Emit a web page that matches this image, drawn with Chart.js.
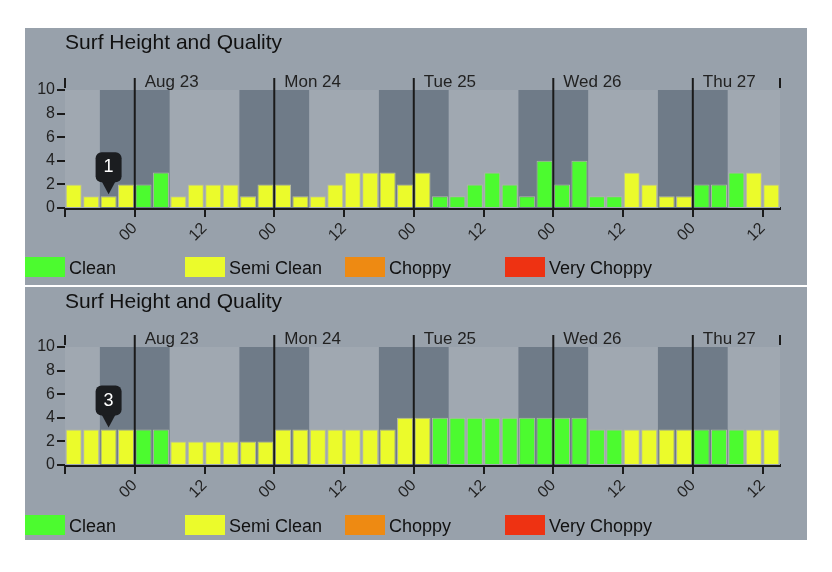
<!DOCTYPE html>
<html>
<head>
<meta charset="utf-8">
<script src="https://cdn.jsdelivr.net/npm/chart.js@4"></script>
<style>
  body { margin: 0; background: #fff; font-family: "Liberation Sans", Arial, sans-serif; }
  .panel { position: absolute; left: 25px; width: 782px; background: #98a1ab; }
  .panel canvas { position: absolute; left: 0; top: 0; }
  .title { position: absolute; left: 40px; top: 2px; font-size: 21px; color: #111; }
  .legend { position: absolute; left: 0; font-size: 18px; color: #111; }
  .legend span { position: absolute; white-space: nowrap; }
  .legend i { display: inline-block; width: 40px; height: 20px; vertical-align: -3px; margin-right: 4px; }
</style>
</head>
<body>
<div class="panel" id="p1" style="top:28px;height:257px">
  <canvas id="c1" width="782" height="257"></canvas>
  <div class="title">Surf Height and Quality</div>
  <div class="legend" style="top:229px"></div>
</div>
<div class="panel" id="p2" style="top:287px;height:253px">
  <canvas id="c2" width="782" height="253"></canvas>
  <div class="title">Surf Height and Quality</div>
  <div class="legend" style="top:228px"></div>
</div>
<script>
// bars are 3 hours each, starting Sat Aug 22 12:00 (hour -12 relative to Aug 23 00:00)
const startHour = -12;
const stepHours = 3;
const dayLabels = ['Aug 23', 'Mon 24', 'Tue 25', 'Wed 26', 'Thu 27'];
const qualityNames = ['Clean', 'Semi Clean', 'Choppy', 'Very Choppy'];
const qualityColors = ['#4cfb2f', '#ebfb2b', '#ee8a12', '#ee3212'];

// top chart: heights and quality (C = clean, S = semi clean)
const heights1 = [2,1,1,2, 2,3,1,2,2,2,1,2, 2,1,1,2,3,3,3,2, 3,1,1,2,3,2,1,4, 2,4,1,1,3,2,1,1, 2,2,3,3,2];
const quality1 = ['S','S','S','S', 'C','C','S','S','S','S','S','S', 'S','S','S','S','S','S','S','S',
                  'S','C','C','C','C','C','C','C', 'C','C','C','C','S','S','S','S', 'C','C','C','S','S'];
// bottom chart
const heights2 = [3,3,3,3, 3,3,2,2,2,2,2,2, 3,3,3,3,3,3,3,4, 4,4,4,4,4,4,4,4, 4,4,3,3,3,3,3,3, 3,3,3,3,3];
const quality2 = ['S','S','S','S', 'C','C','S','S','S','S','S','S', 'S','S','S','S','S','S','S','S',
                  'S','C','C','C','C','C','C','C', 'C','C','C','C','S','S','S','S', 'C','C','C','S','S'];
const markerIndex = 2;

const yTicks = [0, 2, 4, 6, 8, 10];
const xTickHours = [-12, 0, 12, 24, 36, 48, 60, 72, 84, 96, 108];

const bgPlugin = {
  id: 'surfBg',
  beforeDatasetsDraw(chart) {
    const { ctx, chartArea: a, scales: { x } } = chart;
    ctx.save();
    ctx.fillStyle = '#a0a8b1';
    ctx.fillRect(a.left, a.top, a.right - a.left, a.bottom - a.top);
    ctx.fillStyle = '#6f7b88';
    for (let d = 0; d < dayLabels.length; d++) {
      const l = Math.max(x.getPixelForValue(d * 24 - 6), a.left);
      const r = Math.min(x.getPixelForValue(d * 24 + 6), a.right);
      ctx.fillRect(l, a.top, r - l, a.bottom - a.top);
    }
    ctx.restore();
  },
  afterDatasetsDraw(chart, args, opts) {
    const { ctx, chartArea: a, scales: { x } } = chart;
    ctx.save();
    ctx.strokeStyle = '#1a1a1a';
    ctx.lineWidth = 2;
    ctx.fillStyle = '#222';
    ctx.font = '17px "Liberation Sans", Arial, sans-serif';
    dayLabels.forEach((lab, d) => {
      const px = x.getPixelForValue(d * 24);
      ctx.beginPath();
      ctx.moveTo(px, a.top - 12);
      ctx.lineTo(px, a.bottom);
      ctx.stroke();
      ctx.fillText(lab, px + 10, a.top - 3);
    });
    [a.left, a.right].forEach(px => {
      ctx.beginPath(); ctx.moveTo(px, a.top - 12); ctx.lineTo(px, a.top - 2); ctx.stroke();
    });
    // marker above one bar
    const heights = opts.heights || [];
    const quality = opts.quality || [];
    const meta = chart.getDatasetMeta(quality[markerIndex] === 'C' ? 0 : 1);
    const bar = meta.data[markerIndex];
    if (bar) {
      const bx = bar.x, by = bar.y - 2;
      ctx.fillStyle = '#1b1d20';
      ctx.beginPath();
      ctx.moveTo(bx, by); ctx.lineTo(bx - 7, by - 13); ctx.lineTo(bx + 7, by - 13); ctx.closePath(); ctx.fill();
      ctx.beginPath();
      ctx.roundRect(bx - 13, by - 42, 26, 30, 6);
      ctx.fill();
      ctx.fillStyle = '#fff';
      ctx.textAlign = 'center';
      ctx.textBaseline = 'middle';
      ctx.font = '18px "Liberation Sans", Arial, sans-serif';
      ctx.fillText(String(heights[markerIndex]), bx, by - 27);
    }
    ctx.restore();
  }
};

function makeChart(id, heights, quality, padTop, padBottom) {
  const clean = heights.map((h, i) => ({ x: startHour + stepHours * (i + 0.5), y: quality[i] === 'C' ? h : null }));
  const semi = heights.map((h, i) => ({ x: startHour + stepHours * (i + 0.5), y: quality[i] === 'S' ? h : null }));
  return new Chart(document.getElementById(id), {
    type: 'bar',
    data: {
      datasets: [
        { label: 'Clean', data: clean, backgroundColor: qualityColors[0], borderColor: '#b0b8a8', borderWidth: 1, grouped: false },
        { label: 'Semi Clean', data: semi, backgroundColor: qualityColors[1], borderColor: '#b8bca0', borderWidth: 1, grouped: false }
      ]
    },
    options: {
      responsive: false,
      animation: false,
      events: [],
      layout: { padding: { top: padTop, right: 27, left: 0, bottom: padBottom } },
      plugins: { legend: { display: false }, tooltip: { enabled: false }, surfBg: { heights, quality } },
      datasets: { bar: { barPercentage: 0.92, categoryPercentage: 1 } },
      scales: {
        x: {
          type: 'linear', min: -12, max: 111, offset: false,
          afterBuildTicks: s => { s.ticks = xTickHours.map(v => ({ value: v })); },
          afterFit: s => { s.height = 62; },
          grid: { display: true, drawOnChartArea: false, offset: false, color: '#1a1a1a', lineWidth: 2, tickLength: 9 },
          border: { color: '#1a1a1a', width: 3 },
          ticks: {
            color: '#222', font: { size: 16, family: '"Liberation Sans", Arial' },
            maxRotation: 45, minRotation: 45, autoSkip: false, padding: 2,
            callback: v => v < 0 ? '' : (v % 24 === 0 ? '00' : '12')
          }
        },
        y: {
          min: 0, max: 10,
          afterBuildTicks: s => { s.ticks = yTicks.map(v => ({ value: v })); },
          afterFit: s => { s.width = 40; },
          grid: { display: true, drawOnChartArea: false, color: '#1a1a1a', lineWidth: 2, tickLength: 8 },
          border: { display: false },
          ticks: { color: '#222', font: { size: 16, family: '"Liberation Sans", Arial' }, padding: 2 }
        }
      }
    },
    plugins: [bgPlugin]
  });
}

document.querySelectorAll('.legend').forEach(el => {
  el.innerHTML = qualityNames.map((n, i) =>
    `<span style="left:${i * 160}px"><i style="background:${qualityColors[i]}"></i>${n}</span>`).join('');
});

makeChart('c1', heights1, quality1, 62, 15);
makeChart('c2', heights2, quality2, 60, 13);
</script>
</body>
</html>
